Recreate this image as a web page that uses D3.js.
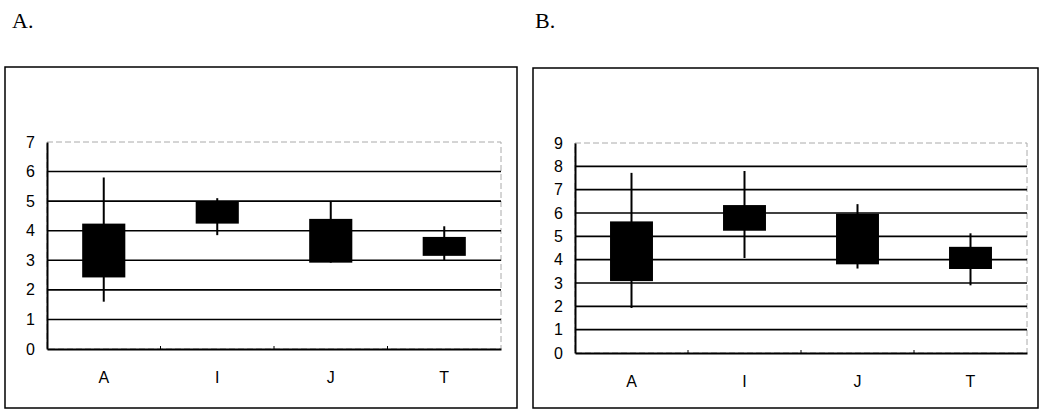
<!DOCTYPE html>
<html>
<head>
<meta charset="utf-8">
<script src="https://cdn.jsdelivr.net/npm/d3@7"></script>
<style>
  body { margin: 0; background: #fff; }
  svg { display: block; }
</style>
</head>
<body>
<div id="chart"></div>
<script>
// categories and values
var categories = ["A", "I", "J", "T"];

// panel A
var aHigh = [5.8, 5.1, 5.0, 4.15];
var aTop = [4.24, 5.0, 4.4, 3.79];
var aBottom = [2.42, 4.24, 2.92, 3.15];
var aLow = [1.6, 3.85, 2.92, 3.0];
var aTicks = [0, 1, 2, 3, 4, 5, 6, 7];

// panel B
var bHigh = [7.72, 7.8, 6.38, 5.13];
var bTop = [5.64, 6.34, 5.97, 4.55];
var bBottom = [3.08, 5.24, 3.8, 3.6];
var bLow = [1.93, 4.07, 3.62, 2.9];
var bTicks = [0, 1, 2, 3, 4, 5, 6, 7, 8, 9];

var svgWidth = 1040, svgHeight = 411;

var svg = d3.select("#chart")
  .append("svg")
    .attr("width", svgWidth)
    .attr("height", svgHeight);

function drawPanel(p) {
  var g = svg.append("g").attr("class", "panel");

  // panel letter
  g.append("text")
    .attr("x", p.titleX)
    .attr("y", 28)
    .style("font-family", "Liberation Serif, Times New Roman, serif")
    .style("font-size", "22px")
    .text(p.title);

  // outer frame
  g.append("rect")
    .attr("x", p.box[0])
    .attr("y", p.box[1])
    .attr("width", p.box[2] - p.box[0])
    .attr("height", p.box[3] - p.box[1])
    .attr("fill", "none")
    .attr("stroke", "#000")
    .attr("stroke-width", 1.5);

  var x = d3.scaleBand()
    .domain(categories)
    .range([p.left, p.right]);

  var y = d3.scaleLinear()
    .domain([0, d3.max(p.ticks)])
    .range([p.bottom, p.top]);

  // plot area border (light, dotted)
  g.append("rect")
    .attr("x", p.left)
    .attr("y", y(d3.max(p.ticks)))
    .attr("width", p.right - p.left)
    .attr("height", y(0) - y(d3.max(p.ticks)))
    .attr("fill", "none")
    .attr("stroke", "#aaa")
    .attr("stroke-width", 1)
    .attr("stroke-dasharray", "6,3");

  // gridlines
  g.append("g")
    .selectAll("line")
    .data(p.ticks.filter(function(d) { return d > 0 && d < d3.max(p.ticks); }))
    .join("line")
      .attr("x1", p.left)
      .attr("x2", p.right)
      .attr("y1", function(d) { return y(d); })
      .attr("y2", function(d) { return y(d); })
      .attr("stroke", "#000")
      .attr("stroke-width", 1.6);

  var rows = categories.map(function(c, i) {
    return {cat: c, high: p.high[i], top: p.boxTop[i], bottom: p.boxBottom[i], low: p.low[i]};
  });

  // whiskers
  g.append("g")
    .selectAll("line")
    .data(rows)
    .join("line")
      .attr("x1", function(d) { return x(d.cat) + x.bandwidth() / 2; })
      .attr("x2", function(d) { return x(d.cat) + x.bandwidth() / 2; })
      .attr("y1", function(d) { return y(d.high); })
      .attr("y2", function(d) { return y(d.low); })
      .attr("stroke", "#000")
      .attr("stroke-width", 2);

  // boxes
  var bw = x.bandwidth() * 0.38;
  g.append("g")
    .selectAll("rect")
    .data(rows)
    .join("rect")
      .attr("x", function(d) { return x(d.cat) + x.bandwidth() / 2 - bw / 2; })
      .attr("y", function(d) { return y(d.top); })
      .attr("width", bw)
      .attr("height", function(d) { return y(d.bottom) - y(d.top); })
      .attr("fill", "#000");

  // y axis
  var yAxis = g.append("g")
    .attr("transform", "translate(" + p.left + ",0)")
    .call(d3.axisLeft(y).tickValues(p.ticks).tickFormat(d3.format("d")).tickSize(0).tickPadding(p.tickPad));
  yAxis.select(".domain").attr("stroke", "#000").attr("stroke-width", 2);
  yAxis.selectAll("text")
    .style("font-family", "Liberation Sans, Arial, sans-serif")
    .style("font-size", "16px")
    .attr("fill", "#000");

  // x axis
  var xAxis = g.append("g")
    .attr("transform", "translate(0," + p.bottom + ")")
    .call(d3.axisBottom(x).tickSize(0).tickPadding(23));
  xAxis.select(".domain").attr("stroke", "#000").attr("stroke-width", 2);
  xAxis.selectAll("text")
    .style("font-family", "Liberation Sans, Arial, sans-serif")
    .style("font-size", "16px")
    .attr("fill", "#000");

  // small tick marks between categories
  g.append("g")
    .selectAll("line")
    .data(categories.slice(1))
    .join("line")
      .attr("x1", function(d) { return x(d); })
      .attr("x2", function(d) { return x(d); })
      .attr("y1", p.bottom)
      .attr("y2", p.bottom - 3)
      .attr("stroke", "#000")
      .attr("stroke-width", 1);
}

drawPanel({
  title: "A.", titleX: 12,
  box: [5, 67, 517, 408],
  left: 47, right: 501, top: 142, bottom: 349, tickPad: 12,
  ticks: aTicks, high: aHigh, boxTop: aTop, boxBottom: aBottom, low: aLow
});

drawPanel({
  title: "B.", titleX: 535,
  box: [533, 68, 1038, 408],
  left: 575, right: 1027, top: 143, bottom: 353, tickPad: 12,
  ticks: bTicks, high: bHigh, boxTop: bTop, boxBottom: bBottom, low: bLow
});
</script>
</body>
</html>
